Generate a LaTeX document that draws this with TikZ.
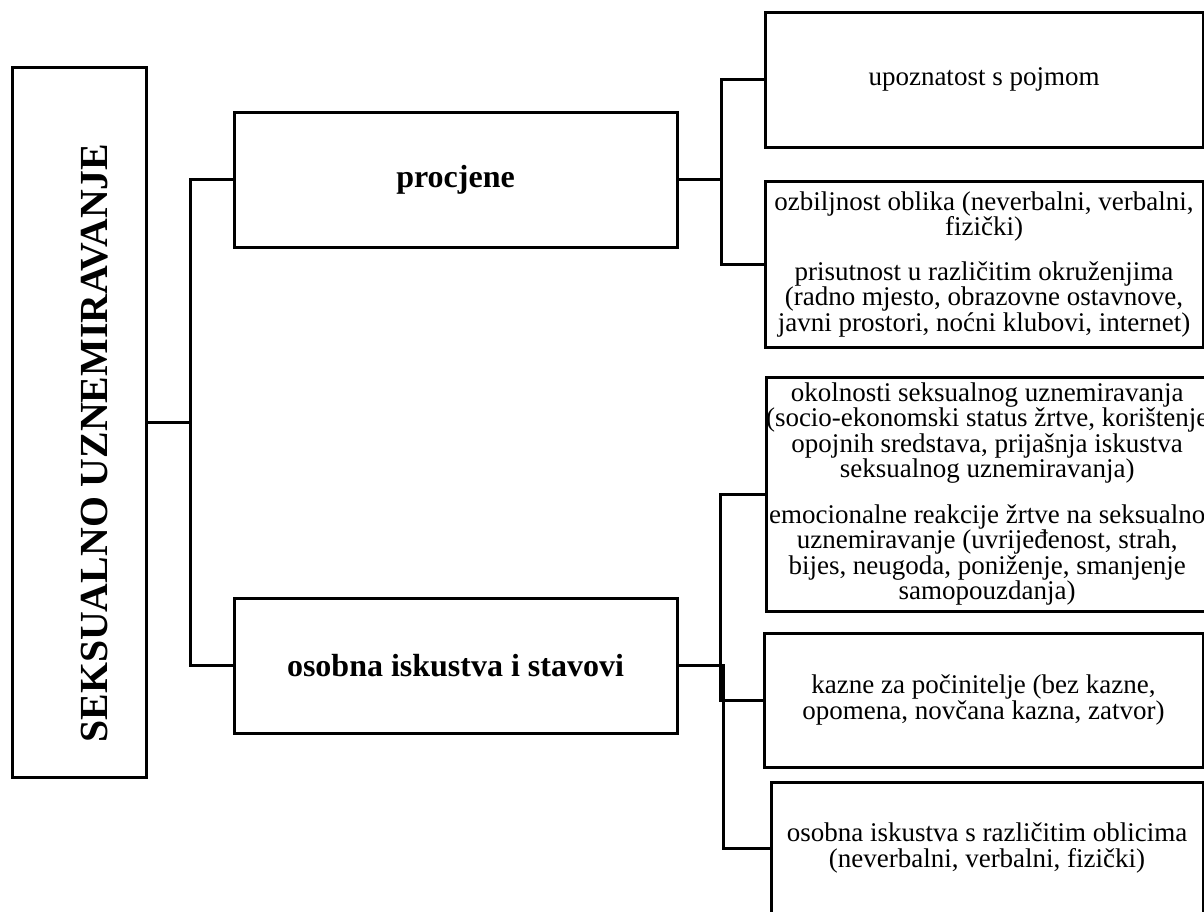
\documentclass[tikz,border=0pt]{standalone}
\usepackage{fontspec}
\setmainfont{Liberation Serif}
\usetikzlibrary{positioning}
\tikzset{box/.style = {draw, rectangle, line width = 3pt, inner sep = 0, outer sep = 0, anchor = north west, align = center}}
\tikzset{link/.style = {line width = 3pt}}
\newcommand{\txtfont}{\fontsize{27}{25.5}\selectfont}
\newcommand{\headfont}{\fontsize{32}{33}\selectfont\bfseries}

\begin{document}
\begin{tikzpicture}[x=1pt, y=-1pt]

       \useasboundingbox (0, 0) rectangle (1204, 911);

       % left column
       \node [box, minimum width = 134, minimum height = 710] (root) at (12, 67) {};
       \node [rotate = 90, font = \fontsize{39.8}{40}\selectfont\bfseries] (rootlbl) at (95, 443) {SEKSUALNO UZNEMIRAVANJE};

       \node [box, minimum width = 443, minimum height = 135, font = \headfont] (proc) at (234, 112) {procjene};
       \node [box, minimum width = 443, minimum height = 135, font = \headfont] (osob) at (234, 598) {osobna iskustva i stavovi};

       % right column
       \node [box, minimum width = 438, minimum height = 135, font = \txtfont] (upoz) at (765, 12) {upoznatost s pojmom};
       \node [box, minimum width = 438, minimum height = 166, font = \txtfont] (ozb) at (765, 181)
             {ozbiljnost oblika (neverbalni, verbalni,\\ fizički)\\[19pt]
              prisutnost u različitim okruženjima\\ (radno mjesto, obrazovne ostavnove,\\ javni prostori, noćni klubovi, internet)};
       \node [box, minimum width = 437, minimum height = 234, font = \txtfont] (okol) at (766, 377)
             {okolnosti seksualnog uznemiravanja\\ (socio-ekonomski status žrtve, korištenje\\ opojnih sredstava, prijašnja iskustva\\ seksualnog uznemiravanja)\\[20pt]
              emocionalne reakcije žrtve na seksualno\\ uznemiravanje (uvrijeđenost, strah,\\ bijes, neugoda, poniženje, smanjenje\\ samopouzdanja)};
       \node [box, minimum width = 439, minimum height = 134, font = \txtfont] (kaz) at (764, 633)
             {kazne za počinitelje (bez kazne,\\ opomena, novčana kazna, zatvor)};
       \node [box, minimum width = 432, minimum height = 132, font = \txtfont] (osis) at (771, 782)
             {osobna iskustva s različitim oblicima\\ (neverbalni, verbalni, fizički)};

       % connectors
       \coordinate (fork1) at (190, 422);
       \coordinate (fork2) at (721, 179.5);
       \coordinate (fork3) at (720, 700);
       \coordinate (fork4) at (723, 848);
       \draw [link] (root.east) -- (fork1);
       \draw [link] (proc.west) -| (fork1) |- (osob.west);
       \draw [link] (proc.east) -- (fork2);
       \draw [link] (upoz.west) -| (fork2) |- (ozb.west);
       \draw [link] (okol.west) -| (fork3) -- (kaz.west);
       \draw [link] (osob.east) -| (fork4) -- (osis.west);
    \end{tikzpicture}
\end{document}
